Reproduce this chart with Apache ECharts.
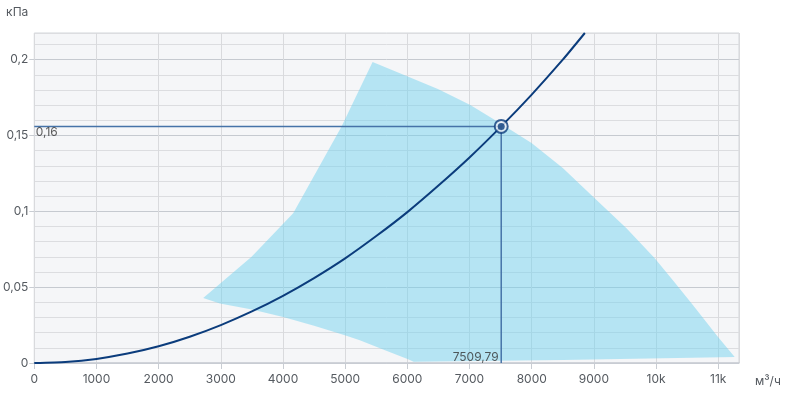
<!DOCTYPE html>
<html>
<head>
<meta charset="utf-8">
<script src="https://cdn.jsdelivr.net/npm/echarts@6/dist/echarts.min.js"></script>
<style>html,body{margin:0;padding:0;background:#fff}#c{width:786px;height:395px}</style>
</head>
<body>
<div id="c"></div>
<script>
// Axis extents and ticks
var xMax = 11334;
var yMax = 0.2176;
var xTickStep = 1000;
var yTickStep = 0.05;
var yMinorStep = 0.01;

// Fan operating area (polygon outline), [m3/h, kPa]
var areaPoints = [
  // upper-left edge
  [2717, 0.0429], [3495, 0.0700], [4164, 0.0987], [4942, 0.1560], [5441, 0.1985],
  // upper-right edge
  [5987, 0.1893], [6500, 0.1805], [7005, 0.1703], [7487, 0.1582], [7997, 0.1450],
  [8500, 0.1285], [8987, 0.1097], [9524, 0.0888], [9979, 0.0690], [10300, 0.0530],
  [10595, 0.0381], [10997, 0.0172], [11265, 0.0040],
  // bottom edge
  [8500, 0.0020], [6100, 0.0008],
  // lower-left edge
  [6013, 0.0024], [5600, 0.0090], [5236, 0.0150], [4995, 0.0183], [4500, 0.0246],
  [4003, 0.0304], [3500, 0.0352], [2986, 0.0392]
];

// System curve, [m3/h, kPa]
var curveQ = [0, 500, 1000, 1500, 2000, 2500, 3000, 3500, 4000, 4500, 5000, 5500,
              6000, 6500, 7000, 7509.79, 8000, 8500, 8855];
var curveP = [0, 0.0007, 0.0027, 0.0062, 0.011, 0.0173, 0.025, 0.034, 0.0443, 0.056, 0.069, 0.0837,
              0.0995, 0.117, 0.1355, 0.156, 0.177, 0.2, 0.2176];

// Operating point
var opQ = 7509.79;
var opP = 0.156;
var opQLabel = '7509,79';
var opPLabel = '0,16';

var curveData = curveQ.map(function (q, i) { return [q, curveP[i]]; });

var font = 'Inter, Roboto, sans-serif';
var labelColor = '#555a60';
var dark = '#0b3c7c';
var guide = '#4673a8';

var chart = echarts.init(document.getElementById('c'), null, {renderer: 'canvas'});
chart.setOption({
  animation: false,
  grid: {left: 34, top: 33, right: 47, bottom: 32, show: true,
         backgroundColor: '#f5f6f8', borderColor: '#d2d6db', borderWidth: 1},
  xAxis: {
    type: 'value', min: 0, max: xMax, interval: xTickStep,
    name: 'м³/ч', nameLocation: 'end', nameGap: 16,
    nameTextStyle: {color: labelColor, fontFamily: font, fontSize: 12, verticalAlign: 'top', padding: [12, 0, 0, 0]},
    axisLine: {show: true, lineStyle: {color: '#c9cdd3', width: 1.5}},
    axisTick: {show: true, length: 6, lineStyle: {color: '#c9cdd3'}},
    axisLabel: {color: labelColor, fontFamily: font, fontSize: 12, margin: 10, showMaxLabel: false,
      formatter: function (v) { return v >= 10000 ? (v / 1000) + 'k' : String(v); }},
    splitLine: {show: true, lineStyle: {color: '#d9dadd', width: 1}}
  },
  yAxis: [{
    type: 'value', min: 0, max: yMax, interval: yTickStep,
    name: 'кПа', nameLocation: 'end', nameGap: 15,
    nameTextStyle: {color: labelColor, fontFamily: font, fontSize: 12, align: 'right', padding: [0, 6, 0, 0]},
    axisLine: {show: false},
    axisTick: {show: true, length: 5, lineStyle: {color: '#c9cdd3'}},
    axisLabel: {color: labelColor, fontFamily: font, fontSize: 12, margin: 6, showMaxLabel: false,
      formatter: function (v) { return String(+v.toFixed(2)).replace('.', ','); }},
    splitLine: {show: false}
  }, {
    type: 'value', min: 0, max: yMax, interval: yMinorStep, position: 'left',
    axisLine: {show: false}, axisTick: {show: false}, axisLabel: {show: false},
    splitLine: {show: true, lineStyle: {width: 1,
      color: ['#c6cad0', '#dcdde0', '#dcdde0', '#dcdde0', '#dcdde0']}}
  }],
  series: [{
    type: 'custom',
    data: [0],
    z: 1,
    renderItem: function (params, api) {
      var pts = areaPoints.map(function (p) { return api.coord(p); });
      return {type: 'polygon', shape: {points: pts},
              style: {fill: 'rgba(110,208,238,0.48)'}};
    },
    clip: true
  }, {
    type: 'line', data: curveData, smooth: 0.2, symbol: 'none', z: 3,
    lineStyle: {color: dark, width: 2}
  }, {
    type: 'line', data: [[0, opP], [opQ, opP]], symbol: 'none', z: 2,
    lineStyle: {color: guide, width: 1.5}
  }, {
    type: 'line', data: [[opQ, 0], [opQ, opP]], symbol: 'none', z: 2,
    lineStyle: {color: guide, width: 1.5}
  }, {
    type: 'scatter', symbolSize: 1, z: 5, itemStyle: {color: 'rgba(0,0,0,0)'},
    data: [
      {value: [0, opP], label: {show: true, position: 'right', distance: 1, offset: [0, 6],
        formatter: opPLabel, color: '#333', fontFamily: font, fontSize: 12}},
      {value: [opQ, 0], label: {show: true, position: 'left', distance: 2, offset: [0, -6],
        formatter: opQLabel, color: '#333', fontFamily: font, fontSize: 12}}
    ]
  }, {
    type: 'scatter', data: [[opQ, opP]], symbol: 'circle', symbolSize: 13, z: 6,
    itemStyle: {color: '#e8eef5', borderColor: dark, borderWidth: 2}
  }, {
    type: 'scatter', data: [[opQ, opP]], symbol: 'circle', symbolSize: 7, z: 7,
    itemStyle: {color: dark}
  }]
});
</script>
</body>
</html>
